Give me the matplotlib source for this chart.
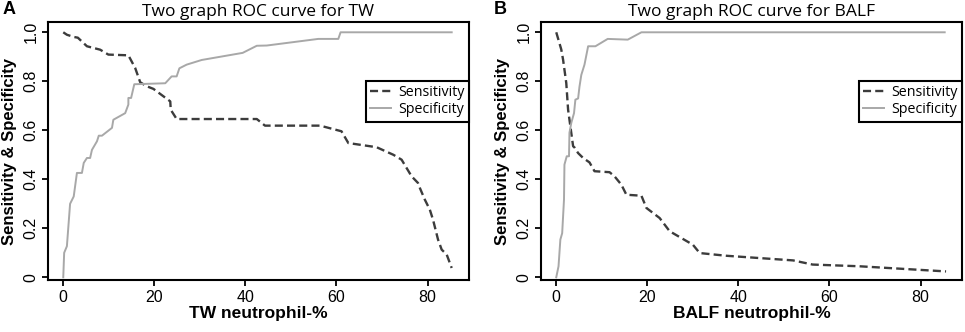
import matplotlib
matplotlib.use("Agg")
import matplotlib.pyplot as plt

plt.rcParams['font.family'] = ['Liberation Sans', 'DejaVu Sans']
plt.rcParams['lines.scale_dashes'] = False

# ---- data ----
tw_sens_x = [0, 0.8, 2.3, 3.2, 5.2, 8.1, 9.9, 14.3, 15.8, 16.9, 18.3, 19.8, 23.5, 23.6, 24.9,
             42.5, 44.3, 56.4, 61.1, 62.6, 68.8, 72.5, 74.3, 75.4, 76.5, 77.9, 78.3, 79.4,
             80.5, 81.2, 82.3, 83.1, 84.2, 85.3]
tw_sens_y = [1.0, 0.99, 0.981, 0.978, 0.943, 0.929, 0.909, 0.906, 0.854, 0.796, 0.78, 0.769,
             0.718, 0.684, 0.646, 0.646, 0.619, 0.619, 0.596, 0.548, 0.531, 0.50, 0.48, 0.446,
             0.412, 0.385, 0.365, 0.317, 0.276, 0.235, 0.154, 0.113, 0.093, 0.038]
tw_spec_x = [0, 0.2, 0.8, 1.5, 2.3, 3.0, 4.1, 4.5, 5.2, 5.9, 6.3, 7.4, 7.8, 8.5, 10.7, 11.0,
             13.6, 14.3, 14.3, 14.9, 15.6, 22.4, 23.8, 24.9, 25.5, 27.1, 30.4, 39.4, 42.5,
             44.7, 56.0, 60.4, 60.9, 85.3]
tw_spec_y = [0, 0.10, 0.127, 0.30, 0.33, 0.426, 0.426, 0.467, 0.487, 0.487, 0.52, 0.555,
             0.578, 0.578, 0.61, 0.643, 0.67, 0.705, 0.732, 0.732, 0.788, 0.792, 0.82, 0.82,
             0.853, 0.868, 0.887, 0.916, 0.945, 0.946, 0.973, 0.973, 1.0, 1.0]

balf_sens_x = [0, 1.1, 1.5, 2.2, 2.6, 3.3, 3.7, 4.0, 4.8, 5.9, 7.3, 8.4, 11.7, 12.8, 14.3,
               15.4, 18.7, 19.8, 22.7, 24.9, 30.0, 31.5, 37.3, 52.0, 56.3, 66.6, 85.6]
balf_sens_y = [1.0, 0.93, 0.888, 0.793, 0.684, 0.589, 0.535, 0.53, 0.507, 0.487, 0.469, 0.433,
               0.429, 0.412, 0.378, 0.337, 0.333, 0.283, 0.242, 0.188, 0.133, 0.099, 0.088,
               0.069, 0.052, 0.045, 0.024]
balf_spec_x = [0, 0.5, 0.9, 1.3, 1.7, 1.8, 2.3, 2.8, 2.9, 3.3, 3.9, 4.2, 4.8, 5.1, 5.5, 6.2,
               7.0, 8.6, 11.3, 15.7, 18.7, 85.3]
balf_spec_y = [0, 0.045, 0.154, 0.18, 0.317, 0.46, 0.494, 0.494, 0.59, 0.63, 0.67, 0.725,
               0.73, 0.778, 0.826, 0.868, 0.943, 0.943, 0.973, 0.97, 1.0, 1.0]

x_ticks = [0, 20, 40, 60, 80]
y_ticks = [0, 0.2, 0.4, 0.6, 0.8, 1.0]
y_ticklabels = ["0", "0.2", "0.4", "0.6", "0.8", "1.0"]

panels = [
    ("A", "Two graph ROC curve for TW", "TW neutrophil-%",
     tw_sens_x, tw_sens_y, tw_spec_x, tw_spec_y),
    ("B", "Two graph ROC curve for BALF", "BALF neutrophil-%",
     balf_sens_x, balf_sens_y, balf_spec_x, balf_spec_y),
]

W, H = 965, 332
fig = plt.figure(figsize=(W / 100, H / 100), dpi=100)

ax_lefts = [48, 541]
label_x = [9, 500]
ylab_x = [10, 502]
sans2 = ["Open Sans", "DejaVu Sans"]

for i, (letter, title, xlabel, sx, sy, px, py) in enumerate(panels):
    left = ax_lefts[i]
    ax = fig.add_axes([left / W, 1 - 280 / H, 421 / W, 258 / H])
    l1, = ax.plot(sx, sy, color="#3c3c3c", lw=1.7, dashes=(5.8, 3.0), label="Sensitivity")
    l2, = ax.plot(px, py, color="#a8a8a8", lw=1.4, label="Specificity")
    ax.set_xlim(-3.35, 89.1)
    ax.set_ylim(-0.011, 1.042)
    ax.set_xticks(x_ticks)
    ax.set_yticks(y_ticks)
    ax.set_yticklabels(y_ticklabels, rotation=90, va="center")
    ax.tick_params(axis="both", direction="out", length=4, width=1.3, labelsize=11.5,
                   colors="black", pad=3)
    for s in ax.spines.values():
        s.set_linewidth(1.5)
        s.set_color("black")
    ax.set_title(title, fontsize=12.5, pad=4, fontfamily=sans2)
    ax.set_xlabel(xlabel, fontsize=12.5, fontweight="bold", labelpad=1)
    fig.text(ylab_x[i] / W, 1 - 152 / H, "Sensitivity & Specificity", rotation=90,
             fontsize=12, fontweight="bold", ha="center", va="center")
    leg = ax.legend(handles=[l1, l2], loc="upper right",
                    bbox_to_anchor=(0.999, 0.772), fancybox=False, framealpha=1,
                    edgecolor="black", handlelength=1.5,
                    handletextpad=0.45, borderpad=0.3, labelspacing=0.15,
                    borderaxespad=0, prop={"family": sans2, "size": 10.3})
    leg.get_frame().set_linewidth(1.5)
    fig.text(label_x[i] / W, 1 - 10 / H, letter, fontsize=13, fontweight="bold",
             ha="center", va="center")

fig.savefig("out.png", dpi=100)
